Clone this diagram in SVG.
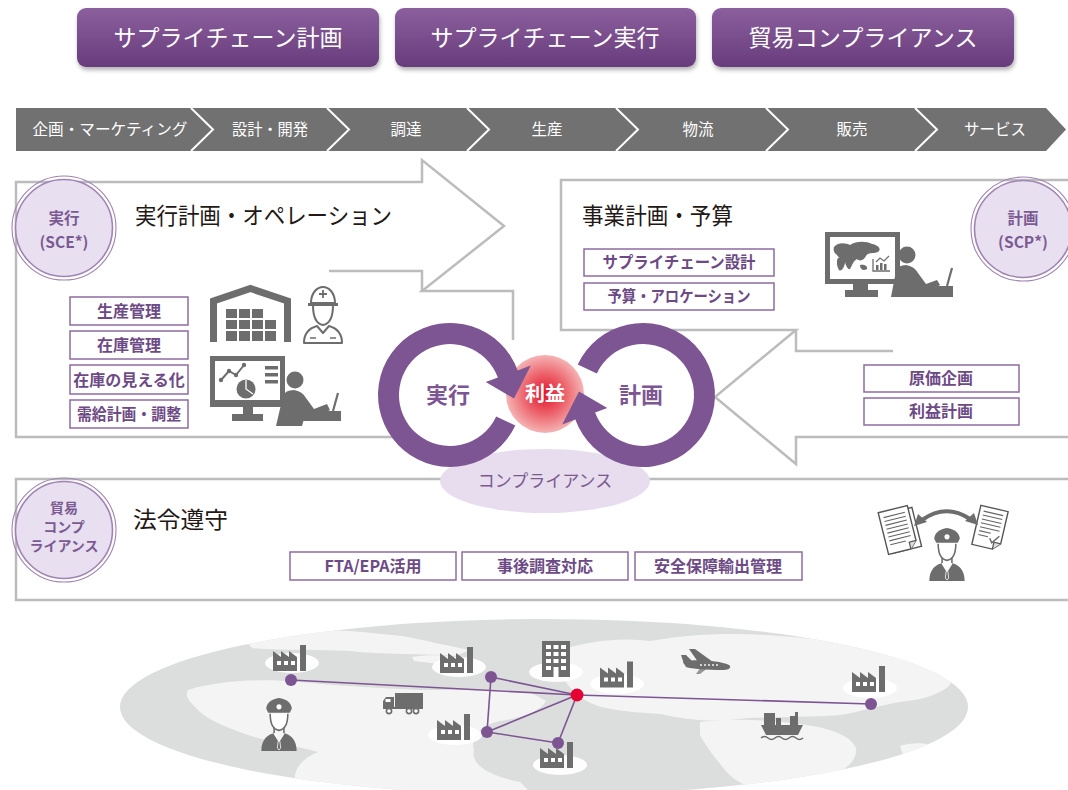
<svg xmlns="http://www.w3.org/2000/svg" xmlns:xlink="http://www.w3.org/1999/xlink" width="1068" height="790" viewBox="0 0 1068 790">
  <defs>
    <style>
      text { font-family: "Noto Sans CJK JP", "Noto Sans", sans-serif; }
      .btn { fill: url(#btnGrad); filter: url(#btnShadow); }
      .btn-t { font-size: 23px; fill: #ffffff; text-anchor: middle; }
      .proc-t { font-size: 15.5px; fill: #ffffff; text-anchor: middle; }
      .chev { fill: none; stroke: #ffffff; stroke-width: 2; }
      .outline { fill: none; stroke: #bcbcbc; stroke-width: 2.5; }
      .title { font-size: 23px; fill: #231815; }
      .tag rect { fill: #ffffff; stroke: #8e6ba3; stroke-width: 1.5; }
      .tag text { font-size: 16px; font-weight: 700; fill: #6d4a86; text-anchor: middle; }
      .badge-in { fill: #e8dff0; stroke: #a084b3; stroke-width: 1.6; }
      .badge-out { fill: none; stroke: #a084b3; stroke-width: 1.1; }
      .badge-t { font-size: 15.5px; font-weight: 700; fill: #7b5a92; text-anchor: middle; }
      .badge-s { font-size: 14px; font-weight: 700; fill: #7b5a92; text-anchor: middle; }
      .ring { fill: #7d5593; }
      .ring-t { font-size: 22px; font-weight: 700; fill: #7d5593; text-anchor: middle; }
      .ico { fill: #6d6d6d; }
      .ico-line { fill: #ffffff; stroke: #6d6d6d; stroke-width: 2; stroke-linejoin: round; }
      .land { fill: #f4f4f4; }
      .spot { fill: #ffffff; opacity: 0.92; }
      .link { stroke: #7d5593; stroke-width: 1.6; fill: none; }
      .node { fill: #7d5593; }
    </style>
    <linearGradient id="btnGrad" x1="0" y1="0" x2="0" y2="1">
      <stop offset="0" stop-color="#8b5f9d"/>
      <stop offset="1" stop-color="#683c7c"/>
    </linearGradient>
    <filter id="btnShadow" x="-10%" y="-20%" width="120%" height="150%">
      <feDropShadow dx="1" dy="3" stdDeviation="2" flood-color="#000000" flood-opacity="0.3"/>
    </filter>
    <radialGradient id="profitGrad" cx="0.5" cy="0.5" r="0.5">
      <stop offset="0" stop-color="#e3132b"/>
      <stop offset="0.5" stop-color="#ec5f68"/>
      <stop offset="1" stop-color="#f5b3b4"/>
    </radialGradient>
    <clipPath id="globeClip">
      <ellipse cx="544" cy="707" rx="424" ry="88"/>
    </clipPath>

    <!-- pictograms reused on the map -->
    <symbol id="factory" viewBox="0 0 36 26">
      <path class="ico" d="M0,26 V6 L8,12 V6 L16,12 V6 L24,12 V26 Z"/>
      <rect class="ico" x="27" y="0" width="6" height="26"/>
      <rect x="4" y="16" width="4" height="4" fill="#fff"/>
      <rect x="11" y="16" width="4" height="4" fill="#fff"/>
      <rect x="18" y="16" width="4" height="4" fill="#fff"/>
    </symbol>
    <symbol id="officer" viewBox="0 0 38 54">
      <path class="ico" d="M6,11 C6,5 12,1 19,0 C26,1 32,5 32,11 L30,15 H8 Z"/>
      <circle cx="19" cy="9" r="2.6" fill="#fff"/>
      <path d="M10,16 C10,26 13,32 19,33 C25,32 28,26 28,16" fill="#fff" stroke="#6d6d6d" stroke-width="1.6"/>
      <path d="M14,30 V36 M24,30 V36" stroke="#6d6d6d" stroke-width="1.6"/>
      <path class="ico" d="M1,54 C1,42 8,37 14,36 L19,43 L24,36 C30,37 37,42 37,54 Z"/>
      <path d="M14,36 L19,44 L24,36" fill="none" stroke="#fff" stroke-width="1.4"/>
      <path d="M18.1,44 H19.9 L20.7,51 L19,53 L17.3,51 Z" class="ico" stroke="#fff" stroke-width="0.8"/>
    </symbol>
  </defs>

  <rect width="1068" height="790" fill="#ffffff"/>

  <!-- category buttons -->
  <g id="btn-scp">
    <rect class="btn" x="77" y="8" width="302" height="59" rx="9"/>
    <text class="btn-t" x="228" y="46" textLength="229" lengthAdjust="spacingAndGlyphs">サプライチェーン計画</text>
  </g>
  <g id="btn-sce">
    <rect class="btn" x="395" y="8" width="301" height="59" rx="9"/>
    <text class="btn-t" x="545" y="46" textLength="229" lengthAdjust="spacingAndGlyphs">サプライチェーン実行</text>
  </g>
  <g id="btn-trade">
    <rect class="btn" x="712" y="8" width="302" height="59" rx="9"/>
    <text class="btn-t" x="863" y="46" textLength="229" lengthAdjust="spacingAndGlyphs">貿易コンプライアンス</text>
  </g>

  <!-- value chain bar -->
  <g id="value-chain">
    <polygon points="16,108 1046,108 1066,129.5 1046,151 16,151" fill="#717171"/>
    <polyline class="chev" points="191,108 213,129.5 191,151"/>
    <polyline class="chev" points="327,108 349,129.5 327,151"/>
    <polyline class="chev" points="467,108 489,129.5 467,151"/>
    <polyline class="chev" points="616,108 638,129.5 616,151"/>
    <polyline class="chev" points="766,108 788,129.5 766,151"/>
    <polyline class="chev" points="915,108 937,129.5 915,151"/>
    <text class="proc-t" x="110" y="135" textLength="155" lengthAdjust="spacingAndGlyphs">企画・マーケティング</text>
    <text class="proc-t" x="270" y="135" textLength="76" lengthAdjust="spacingAndGlyphs">設計・開発</text>
    <text class="proc-t" x="406" y="135">調達</text>
    <text class="proc-t" x="547" y="135">生産</text>
    <text class="proc-t" x="698" y="135">物流</text>
    <text class="proc-t" x="852" y="135">販売</text>
    <text class="proc-t" x="995" y="135">サービス</text>
  </g>

  <!-- section frames -->
  <g id="frames">
    <path class="outline" d="M400,437 H16 V182 H422 V160 L504,226 L422,291 H513 V340"/>
    <path class="outline" d="M329,271 H422 V291"/>
    <path class="outline" d="M1068,180 H561 V330 H796 L715,397 L796,464 V437 H1068"/>
    <path class="outline" d="M796,330 V351 H893"/>
    <path class="outline" d="M1068,479 H16 V600 H1068"/>
  </g>

  <!-- execution section -->
  <g id="sce">
    <circle class="badge-out" cx="64" cy="228" r="52"/>
    <circle class="badge-in" cx="64" cy="228" r="48.5"/>
    <text class="badge-t" x="64" y="224">実行</text>
    <text class="badge-t" x="64" y="248">(SCE*)</text>
    <text class="title" x="135" y="224" textLength="257" lengthAdjust="spacingAndGlyphs">実行計画・オペレーション</text>
    <g class="tag"><rect x="70" y="297" width="118" height="28"/><text x="129" y="317">生産管理</text></g>
    <g class="tag"><rect x="70" y="331" width="118" height="28"/><text x="129" y="351">在庫管理</text></g>
    <g class="tag"><rect x="70" y="365" width="118" height="29"/><text x="129" y="386">在庫の見える化</text></g>
    <g class="tag"><rect x="70" y="400" width="118" height="28"/><text x="129" y="420" textLength="104" lengthAdjust="spacingAndGlyphs">需給計画・調整</text></g>

    <!-- warehouse -->
    <path d="M213.5,342 V301 L250.5,288.5 L287.5,301 V342" fill="none" stroke="#6d6d6d" stroke-width="7"/>
    <g class="ico">
      <rect x="226" y="309" width="11" height="9"/><rect x="239" y="309" width="11" height="9"/><rect x="252" y="309" width="11" height="9"/>
      <rect x="226" y="320" width="11" height="9"/><rect x="239" y="320" width="11" height="9"/><rect x="252" y="320" width="11" height="9"/><rect x="265" y="320" width="11" height="9"/>
      <rect x="226" y="331" width="11" height="10"/><rect x="239" y="331" width="11" height="10"/><rect x="252" y="331" width="11" height="10"/><rect x="265" y="331" width="11" height="10"/>
    </g>
    <!-- site worker -->
    <path class="ico-line" d="M304,343 C304,333 310,328 317,326 L323,333 L329,326 C336,328 342,333 342,343 Z"/>
    <path class="ico-line" d="M313,305 C313,318 317,324 323,325 C329,324 333,318 333,305"/>
    <path class="ico-line" d="M311,303 C311,293 317,287 323,287 C329,287 335,293 335,303 Z"/>
    <path d="M308,304.5 H338" stroke="#6d6d6d" stroke-width="3"/>
    <path d="M323,290 V298 M319,294 H327" stroke="#6d6d6d" stroke-width="1.8"/>
    <path d="M310,338 H316 M330,338 H336" stroke="#6d6d6d" stroke-width="1.5"/>
    <!-- monitoring desk -->
    <rect class="ico" x="210" y="356" width="75" height="51"/>
    <rect x="215" y="361" width="65" height="39" fill="#fff"/>
    <polyline points="221,380 229,371 236,375 244,365" fill="none" stroke="#6d6d6d" stroke-width="2"/>
    <circle class="ico" cx="221" cy="380" r="2.2"/><circle class="ico" cx="229" cy="371" r="2.2"/><circle class="ico" cx="236" cy="375" r="2.2"/><circle class="ico" cx="244" cy="365" r="2.2"/>
    <circle class="ico" cx="246" cy="389" r="9.5"/>
    <path d="M246,380 V389 L253,394" fill="none" stroke="#fff" stroke-width="1.3"/>
    <rect class="ico" x="265" y="366" width="13" height="3.5"/><rect class="ico" x="265" y="373" width="13" height="3.5"/><rect class="ico" x="265" y="380" width="13" height="3.5"/>
    <rect class="ico" x="243" y="407" width="10" height="7"/>
    <rect class="ico" x="232" y="414" width="31" height="7"/>
    <circle class="ico" cx="295" cy="380" r="8.5"/>
    <path class="ico" d="M283,396 Q285,390 294,390 Q302,391 306,398 L314,409 L327,404 L330,410 L314,419 L306,412 L302,426 L276,426 Z"/>
    <rect class="ico" x="301" y="411" width="40" height="10"/>
    <path d="M333,411 L338,393" stroke="#6d6d6d" stroke-width="2.2"/>
  </g>

  <!-- planning section -->
  <g id="scp">
    <circle class="badge-out" cx="1023" cy="229" r="52"/>
    <circle class="badge-in" cx="1023" cy="229" r="48.5"/>
    <text class="badge-t" x="1023" y="224">計画</text>
    <text class="badge-t" x="1023" y="248">(SCP*)</text>
    <text class="title" x="582" y="224" textLength="151" lengthAdjust="spacingAndGlyphs">事業計画・予算</text>
    <g class="tag"><rect x="584" y="249" width="190" height="27"/><text x="679" y="268" textLength="153" lengthAdjust="spacingAndGlyphs">サプライチェーン設計</text></g>
    <g class="tag"><rect x="584" y="283" width="190" height="27"/><text x="679" y="302" textLength="143" lengthAdjust="spacingAndGlyphs">予算・アロケーション</text></g>
    <!-- analyst at monitor -->
    <rect class="ico" x="825" y="232" width="75" height="52"/>
    <rect x="830" y="237" width="65" height="42" fill="#fff"/>
    <path class="ico" d="M834,247 C838,242 846,243 850,245 C856,241 866,241 872,244 C878,245 882,249 878,252 C873,254 868,252 866,256 C864,260 860,262 857,259 C853,261 852,266 850,269 C848,270 846,266 845,262 C843,258 839,259 837,255 C834,253 833,250 834,247 Z"/>
    <path class="ico" d="M838,258 C842,256 846,258 845,263 C844,268 841,272 839,270 C837,267 836,261 838,258 Z"/>
    <path class="ico" d="M860,265 C864,264 868,266 867,269 C864,271 860,270 860,265 Z"/>
    <path d="M873,259 V271 H890" fill="none" stroke="#6d6d6d" stroke-width="1.3"/>
    <rect class="ico" x="876" y="265" width="2.5" height="5"/><rect class="ico" x="880" y="263" width="2.5" height="7"/><rect class="ico" x="884" y="264" width="2.5" height="6"/>
    <polyline points="876,262 880,258 884,261 889,256" fill="none" stroke="#6d6d6d" stroke-width="1.2"/>
    <rect class="ico" x="853" y="284" width="15" height="6"/>
    <rect class="ico" x="845" y="290" width="33" height="7"/>
    <circle class="ico" cx="907" cy="255" r="8.5"/>
    <path class="ico" d="M896,271 Q898,265 906,265 Q914,266 918,273 L926,284 L937,280 L940,285 L925,294 L918,288 L916,297 L891,297 Z"/>
    <rect class="ico" x="913" y="286" width="40" height="11"/>
    <path d="M947,286 L952,268" stroke="#6d6d6d" stroke-width="2.2"/>
    <g class="tag"><rect x="864" y="365" width="155" height="27"/><text x="941" y="384">原価企画</text></g>
    <g class="tag"><rect x="864" y="398" width="155" height="27"/><text x="941" y="417">利益計画</text></g>
  </g>

  <!-- trade compliance section -->
  <g id="trade">
    <circle class="badge-out" cx="64" cy="530" r="52"/>
    <circle class="badge-in" cx="64" cy="530" r="48.5"/>
    <text class="badge-s" x="64" y="513">貿易</text>
    <text class="badge-s" x="64" y="532">コンプ</text>
    <text class="badge-s" x="64" y="551">ライアンス</text>
    <text class="title" x="133" y="528" textLength="95" lengthAdjust="spacingAndGlyphs">法令遵守</text>
    <g class="tag"><rect x="290" y="552" width="166" height="28"/><text x="373" y="572">FTA/EPA活用</text></g>
    <g class="tag"><rect x="462" y="552" width="166" height="28"/><text x="545" y="572">事後調査対応</text></g>
    <g class="tag"><rect x="635" y="552" width="167" height="28"/><text x="718" y="572">安全保障輸出管理</text></g>
    <!-- document exchange -->
    <g transform="translate(900,530) rotate(-14)">
      <rect x="-13" y="-19" width="30" height="40" fill="#fff" stroke="#555" stroke-width="1.4"/>
      <path d="M-17,-22 H13 V14 L6,21 H-17 Z" fill="#fff" stroke="#555" stroke-width="1.4"/>
      <path d="M6,21 V14 H13" fill="#ddd" stroke="#555" stroke-width="1.2"/>
      <path d="M-13,-16 H9 M-13,-12 H9 M-13,-8 H9 M-13,-4 H9 M-13,0 H9 M-13,4 H9 M-13,8 H9 M-13,12 H3" stroke="#666" stroke-width="1.1"/>
    </g>
    <g transform="translate(990,528) rotate(13)">
      <path d="M-14,-20 H14 V13 L7,20 H-14 Z" fill="#fff" stroke="#555" stroke-width="1.4"/>
      <path d="M7,20 V13 H14" fill="#ddd" stroke="#555" stroke-width="1.2"/>
      <path d="M-10,-15 H10 M-10,-11 H10 M-10,-7 H10 M-10,-3 H10 M-10,1 H10 M-10,5 H2 M-10,9 H0" stroke="#666" stroke-width="1.1"/>
      <path d="M2,10 L5,14 L11,6" fill="none" stroke="#666" stroke-width="1.4"/>
    </g>
    <path d="M922,520 Q946,503 970,519" fill="none" stroke="#6d6d6d" stroke-width="4"/>
    <polygon class="ico" points="914,526 918,514 927,522"/>
    <polygon class="ico" points="978,525 974,513 965,521"/>
    <use href="#officer" x="928" y="528" width="38" height="53"/>
  </g>

  <!-- profit cycle -->
  <g id="cycle">
    <g id="compliance-base">
      <ellipse cx="545" cy="481" rx="105" ry="32" fill="#e7ddee"/>
      <text x="545" y="487" font-size="17" fill="#7a5a8e" text-anchor="middle">コンプライアンス</text>
    </g>
    <g id="profit">
      <circle cx="545" cy="394" r="39" fill="url(#profitGrad)"/>
    </g>
    <g id="ring-exec">
      <path class="ring" d="M515.3,425.4 A72,72 0 1 1 517.7,370.4 L530.8,365.6 L514,398.5 L485.7,382 L497.9,377.6 A51,51 0 1 0 496.2,416.6 Z"/>
      <text class="ring-t" x="448" y="403">実行</text>
    </g>
    <g id="ring-plan">
      <path class="ring" transform="rotate(180 546.5 395)" d="M515.3,425.4 A72,72 0 1 1 517.7,370.4 L530.8,365.6 L514,398.5 L485.7,382 L497.9,377.6 A51,51 0 1 0 496.2,416.6 Z"/>
      <text class="ring-t" x="641" y="403">計画</text>
    </g>
    <text x="545" y="401" font-size="20" font-weight="700" fill="#ffffff" text-anchor="middle">利益</text>
  </g>

  <!-- world map base -->
  <g id="globe">
    <ellipse cx="544" cy="707" rx="424" ry="88" fill="#dcdddd"/>
    <g clip-path="url(#globeClip)">
      <path class="land" d="M245,640 C275,631 322,628 362,632 L402,636 C424,640 444,645 470,650 L455,656 C420,653 382,655 350,651 C320,649 280,651 252,648 Z"/>
      <path class="land" d="M412,657 C430,654 452,655 470,660 L462,665 C445,664 428,663 414,661 Z"/>
      <path class="land" d="M188,690 C218,681 260,678 300,682 C340,686 380,688 420,690 C460,690 500,688 530,692 L546,701 C540,712 520,718 500,721 C482,725 470,735 474,750 C470,765 490,776 520,782 L530,792 H300 C288,776 298,760 318,752 C298,746 268,742 248,735 C228,728 208,720 198,710 C190,702 184,696 188,690 Z"/>
      <path class="land" d="M560,650 C590,641 620,637 650,641 C690,634 730,632 780,636 C830,640 870,645 910,652 C940,660 956,672 950,685 C940,695 920,700 900,702 C880,705 860,712 840,715 C800,718 760,716 730,720 C700,722 680,718 660,714 C630,712 600,710 585,700 C570,690 560,678 565,668 C560,660 556,656 560,650 Z"/>
      <path class="land" d="M700,722 C730,718 770,720 800,724 C830,728 850,735 856,748 C858,760 846,770 830,776 C810,782 790,786 770,788 C750,790 735,782 725,770 C715,758 705,745 700,735 Z"/>
      <path class="land" d="M900,746 C915,741 935,743 941,751 C938,759 920,763 905,761 Z"/>
    </g>
  </g>

  <!-- sites on the map -->
  <g id="sites">
    <ellipse class="spot" cx="292" cy="663" rx="27" ry="10"/>
    <use href="#factory" x="273" y="645" width="36" height="26"/>
    <ellipse class="spot" cx="459" cy="667" rx="27" ry="10"/>
    <use href="#factory" x="440" y="647" width="36" height="26"/>
    <ellipse class="spot" cx="556" cy="672" rx="27" ry="10"/>
    <g id="office-building">
      <rect class="ico" x="542" y="641" width="28" height="36"/>
      <g fill="#fff">
        <rect x="546" y="645" width="5" height="4"/><rect x="553.5" y="645" width="5" height="4"/><rect x="561" y="645" width="5" height="4"/>
        <rect x="546" y="652" width="5" height="4"/><rect x="553.5" y="652" width="5" height="4"/><rect x="561" y="652" width="5" height="4"/>
        <rect x="546" y="659" width="5" height="4"/><rect x="553.5" y="659" width="5" height="4"/><rect x="561" y="659" width="5" height="4"/>
        <rect x="546" y="666" width="5" height="4"/><rect x="561" y="666" width="5" height="4"/>
        <rect x="553.5" y="667" width="5" height="10"/>
      </g>
    </g>
    <ellipse class="spot" cx="617" cy="684" rx="27" ry="10"/>
    <use href="#factory" x="600" y="660" width="36" height="29"/>
    <ellipse class="spot" cx="455" cy="735" rx="27" ry="10"/>
    <use href="#factory" x="437" y="714" width="36" height="26"/>
    <ellipse class="spot" cx="560" cy="765" rx="27" ry="10"/>
    <use href="#factory" x="540" y="742" width="36" height="26"/>
    <ellipse class="spot" cx="870" cy="688" rx="27" ry="10"/>
    <use href="#factory" x="852" y="666" width="36" height="26"/>
    <!-- truck -->
    <g id="truck">
      <rect class="ico" x="395" y="693" width="28" height="15"/>
      <path class="ico" d="M383,708 V701 L386,697 H394 V708 Z"/>
      <rect x="385.5" y="699" width="5" height="3" fill="#fff"/>
      <rect class="ico" x="383" y="707" width="40" height="2"/>
      <circle cx="389" cy="711" r="2.6" fill="#fff" stroke="#6d6d6d" stroke-width="1.6"/>
      <circle cx="409" cy="711" r="2.6" fill="#fff" stroke="#6d6d6d" stroke-width="1.6"/>
      <circle cx="416" cy="711" r="2.6" fill="#fff" stroke="#6d6d6d" stroke-width="1.6"/>
    </g>
    <!-- airplane -->
    <g id="plane" class="ico">
      <path d="M683,662 C692,659 718,660 729,665 C732,667 729,670 724,670 C705,670 692,669 686,667 Z"/>
      <path d="M698,662 L689,649 H695 L713,662 Z"/>
      <path d="M684,664 L681,655 H686 L693,662 Z"/>
      <path d="M701,667 L696,674 H700 L709,667 Z" opacity="0.7"/>
    </g>
    <g fill="#fff">
      <circle cx="701" cy="665" r="0.9"/><circle cx="705" cy="665" r="0.9"/><circle cx="709" cy="665" r="0.9"/><circle cx="713" cy="665" r="0.9"/><circle cx="717" cy="665" r="0.9"/>
    </g>
    <!-- cargo ship -->
    <g id="ship">
      <rect class="ico" x="764" y="713" width="11" height="12"/>
      <rect class="ico" x="776" y="718" width="5" height="7"/>
      <rect class="ico" x="790" y="716" width="8" height="9"/>
      <rect class="ico" x="795" y="712" width="3" height="5"/>
      <path class="ico" d="M761,725 H803 L798,735 H766 Z"/>
      <path d="M761,738 q3.5,-3 7,0 t7,0 t7,0 t7,0 t7,0 t7,0" fill="none" stroke="#6d6d6d" stroke-width="1.6"/>
    </g>
    <!-- customs officer -->
    <use href="#officer" x="260" y="698" width="38" height="53"/>
  </g>

  <!-- logistics network -->
  <g id="network">
    <line class="link" x1="291" y1="680" x2="577" y2="695"/>
    <line class="link" x1="491" y1="677" x2="577" y2="695"/>
    <line class="link" x1="491" y1="677" x2="487" y2="732"/>
    <line class="link" x1="487" y1="732" x2="577" y2="695"/>
    <line class="link" x1="487" y1="732" x2="558" y2="743"/>
    <line class="link" x1="558" y1="743" x2="577" y2="695"/>
    <line class="link" x1="577" y1="695" x2="871" y2="704"/>
    <circle class="node" cx="291" cy="680" r="6"/>
    <circle class="node" cx="491" cy="677" r="6"/>
    <circle class="node" cx="487" cy="732" r="6"/>
    <circle class="node" cx="558" cy="743" r="6"/>
    <circle class="node" cx="871" cy="704" r="6"/>
    <circle cx="577" cy="695" r="6.5" fill="#e60033"/>
  </g>
</svg>
